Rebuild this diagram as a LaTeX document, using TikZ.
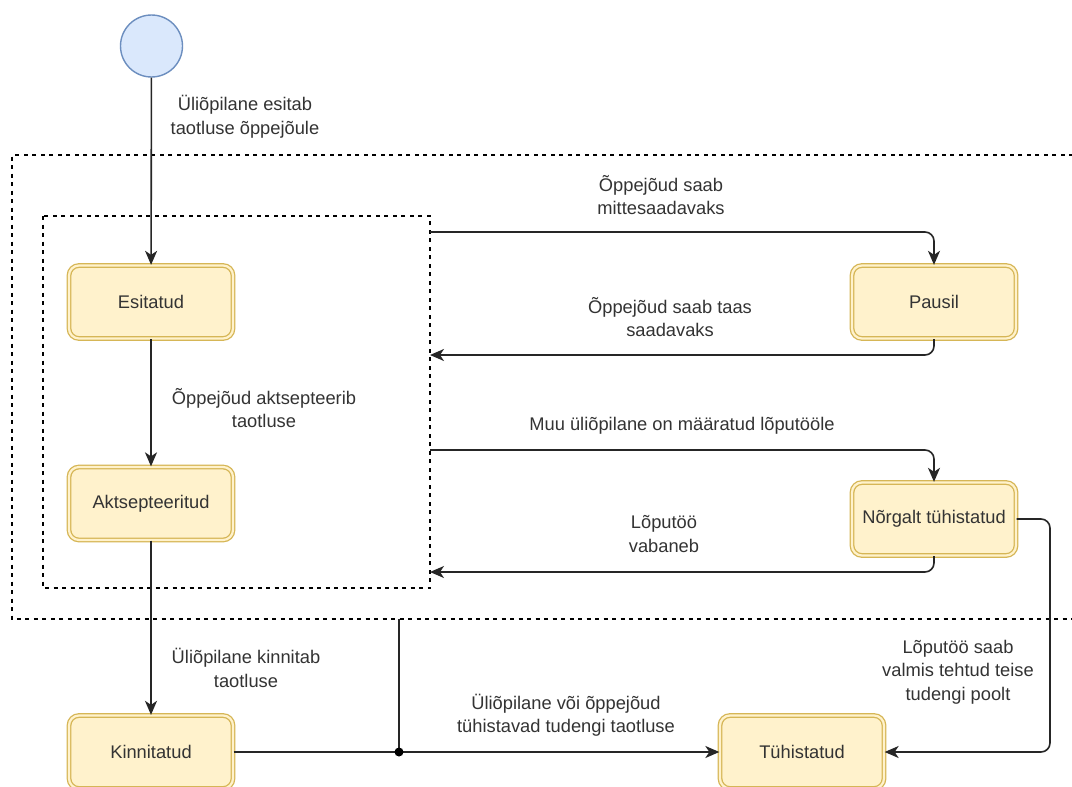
\documentclass[tikz,border=0pt]{standalone}
\usepackage{fontspec}
\setmainfont{Liberation Sans}
\usetikzlibrary{arrows.meta}
\definecolor{statefill}{HTML}{FFF2CC}
\definecolor{statedraw}{HTML}{D6B656}
\definecolor{startfill}{HTML}{DAE8FC}
\definecolor{startdraw}{HTML}{6C8EBF}
\definecolor{ink}{HTML}{333333}
\definecolor{wire}{HTML}{262626}
\begin{document}
\begin{tikzpicture}[x=1pt,y=-1pt,
  txt/.style={font=\fontsize{18.3}{23.5}\selectfont, text=ink, align=center, inner sep=0pt},
  state/.style={txt, draw=statedraw, double=statefill, double distance=2.2pt,
    line width=1.3pt, fill=statefill, rounded corners=10pt,
    minimum width=164pt, minimum height=73pt},
  startnode/.style={circle, draw=startdraw, fill=startfill, line width=1.4pt,
    minimum size=62pt, inner sep=0pt},
  edge/.style={draw=wire, line width=1.6pt, rounded corners=9pt,
    -{Stealth[length=14pt, width=12pt, inset=4pt]}},
  plain/.style={draw=wire, line width=1.6pt, rounded corners=9pt},
  region/.style={draw=black, line width=1.3pt, dash pattern=on 4pt off 4.5pt},
  lbl/.style={txt}]
\clip (0,0) rectangle (1072,787);
\fill[white] (0,0) rectangle (1072,787);

% dashed grouping regions
\draw[region] (1090,155) -- (12,155) -- (12,619) -- (1090,619);
\draw[region] (43,216) rectangle (430,588);

% states
\node[startnode] (start) at (151.5,46) {};
\node[state] (esit) at (151,302) {Esitatud};
\node[state] (akts) at (151,503.5) {Aktsepteeritud};
\node[state] (kinn) at (151,752) {Kinnitatud};
\node[state] (paus) at (934,302) {Pausil};
\node[state] (norg) at (934,519) {Nõrgalt tühistatud};
\node[state] (tuhi) at (802,752) {Tühistatud};

% attachment points on the inner region
\coordinate (pOut) at (430,232);
\coordinate (pIn) at (430,355);
\coordinate (nOut) at (430,450);
\coordinate (nIn) at (430,572);
\coordinate (jtop) at (399,619);
\coordinate (jn) at (399,752);
\coordinate (bend) at (1050,519);

% transitions
\draw[edge] (start) -- (esit);
\draw[edge] (esit) -- (akts);
\draw[edge] (akts) -- (kinn);
\draw[edge] (pOut) -| (paus.north);
\draw[edge] (paus.south) |- (pIn);
\draw[edge] (nOut) -| (norg.north);
\draw[edge] (norg.south) |- (nIn);
\draw[edge] (norg.east) -- (bend) |- (tuhi.east);
\draw[edge] (kinn.east) -- (tuhi.west);
\draw[plain] (jtop) -- (jn);
\fill[black] (jn) circle (4.5pt);

% transition labels
\node[lbl] (l1) at (245,116.5) {Üliõpilane esitab\\taotluse õppejõule};
\node[lbl] (l2) at (264,408) {Õppejõud aktsepteerib\\taotluse};
\node[lbl] (l3) at (246,668) {Üliõpilane kinnitab\\taotluse};
\node[lbl] (l4) at (661,195) {Õppejõud saab\\mittesaadavaks};
\node[lbl] (l5) at (670,317) {Õppejõud saab taas\\saadavaks};
\node[lbl] (l6) at (682,426) {Muu üliõpilane on määratud lõputööle};
\node[lbl] (l7) at (664,534) {Lõputöö\\vabaneb};
\node[lbl] (l8) at (958,672) {Lõputöö saab\\valmis tehtud teise\\tudengi poolt};
\node[lbl] (l9) at (566,715) {Üliõpilane või õppejõud\\tühistavad tudengi taotluse};
\end{tikzpicture}
\end{document}
